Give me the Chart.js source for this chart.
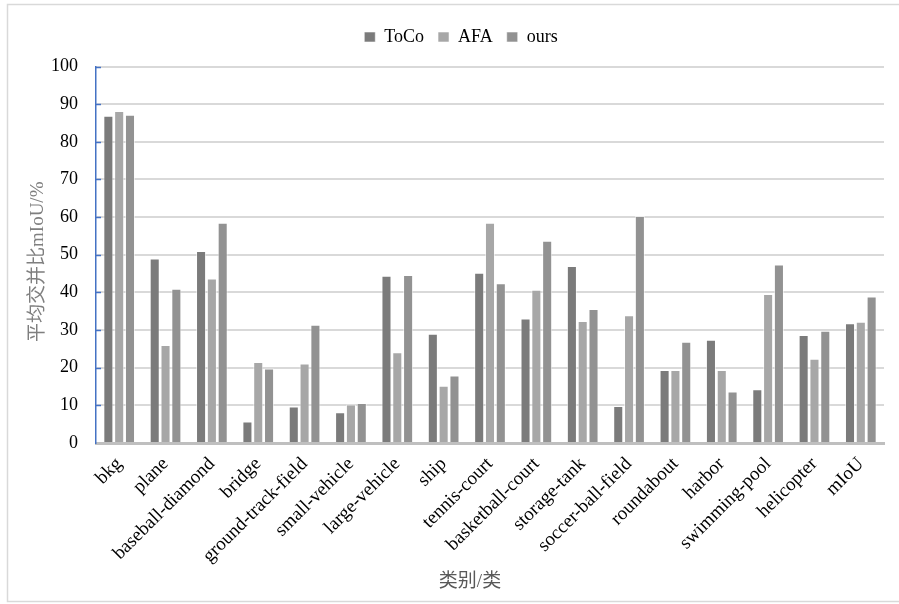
<!DOCTYPE html>
<html>
<head>
<meta charset="utf-8">
<script src="https://cdn.jsdelivr.net/npm/chart.js@4/dist/chart.umd.min.js"></script>
<style>
  html, body { margin: 0; padding: 0; background: #ffffff; }
  canvas { display: block; }
</style>
</head>
<body>
<canvas id="c" width="899" height="604"></canvas>
<script>
// Per-class IoU (%) for each method
const categories = ['bkg', 'plane', 'baseball-diamond', 'bridge', 'ground-track-field', 'small-vehicle',
  'large-vehicle', 'ship', 'tennis-court', 'basketball-court', 'storage-tank', 'soccer-ball-field',
  'roundabout', 'harbor', 'swimming-pool', 'helicopter', 'mIoU'];
const seriesNames = ['ToCo', 'AFA', 'ours'];
const tocoValues = [86.9, 49.0, 51.0, 5.7, 9.7, 8.2, 44.4, 29.0, 45.2, 33.1, 47.0, 9.8, 19.4, 27.4, 14.3, 28.7, 31.8];
const afaValues  = [88.2, 26.0, 43.7, 21.5, 21.1, 10.2, 24.1, 15.2, 58.5, 40.7, 32.4, 33.9, 19.4, 19.4, 39.6, 22.4, 32.2];
const oursValues = [87.2, 41.0, 58.5, 19.8, 31.4, 10.6, 44.6, 17.9, 42.4, 53.7, 35.6, 60.3, 26.9, 13.7, 47.4, 29.8, 38.9];
const yTicks = [0, 10, 20, 30, 40, 50, 60, 70, 80, 90, 100];
const yTitle = '平均交并比mIoU/%';
const xTitle = '类别/类';

const seriesColors = ['#7b7b7b', '#a7a7a7', '#929292'];
const serif = '"Liberation Serif", "Times New Roman", "Noto Sans CJK SC", serif';
const mixed = '"Liberation Serif", "Noto Sans CJK SC", serif';

// White page with a thin light frame around the chart
const framePlugin = {
  id: 'frame',
  beforeDraw(chart) {
    const ctx = chart.ctx;
    ctx.save();
    ctx.fillStyle = '#ffffff';
    ctx.fillRect(0, 0, chart.width, chart.height);
    ctx.strokeStyle = '#d9d9d9';
    ctx.lineWidth = 1.5;
    ctx.strokeRect(7.5, 4.5, chart.width + 10, 597);
    ctx.restore();
  }
};

// Extra gap between the legend row and the plot
const legendGapPlugin = {
  id: 'legendGap',
  beforeInit(chart) {
    const legend = chart.legend;
    if (!legend) return;
    const fit = legend.fit;
    legend.fit = function () {
      fit.call(legend);
      legend.height += 10.5;
    };
  }
};

// Axis titles and inward tick marks on the value axis
const decorPlugin = {
  id: 'decor',
  afterDraw(chart) {
    const ctx = chart.ctx;
    const y = chart.scales.y;
    const area = chart.chartArea;
    ctx.save();
    ctx.strokeStyle = '#4472c4';
    ctx.lineWidth = 1.5;
    y.ticks.forEach(t => {
      const py = Math.round(y.getPixelForValue(t.value)) + 0.5;
      if (t.value === 0) return;
      ctx.beginPath();
      ctx.moveTo(area.left - 1, py);
      ctx.lineTo(area.left + 5, py);
      ctx.stroke();
    });

    ctx.fillStyle = '#7f7f7f';
    ctx.font = '19px ' + mixed;
    ctx.textAlign = 'center';
    ctx.textBaseline = 'middle';
    ctx.save();
    ctx.translate(38, (area.top + area.bottom) / 2 + 7);
    ctx.rotate(-Math.PI / 2);
    ctx.fillText(yTitle, 0, 0);
    ctx.restore();

    ctx.fillStyle = '#595959';
    ctx.fillText(xTitle, 470, 582);
    ctx.restore();
  }
};

const datasets = [tocoValues, afaValues, oursValues].map((vals, i) => ({
  label: seriesNames[i],
  data: vals,
  backgroundColor: seriesColors[i],
  borderColor: 'rgba(255,255,255,0.55)',
  borderWidth: 1,
  categoryPercentage: 0.7,
  barPercentage: 0.93
}));

new Chart(document.getElementById('c'), {
  type: 'bar',
  data: { labels: categories, datasets },
  plugins: [framePlugin, legendGapPlugin, decorPlugin],
  options: {
    responsive: false,
    animation: false,
    layout: { padding: { left: 38, right: 15, top: 14, bottom: 0 } },
    plugins: {
      legend: {
        position: 'top',
        labels: {
          color: '#000000',
          font: { family: serif, size: 18 },
          boxWidth: 11,
          boxHeight: 10,
          padding: 14
        }
      },
      tooltip: { enabled: false }
    },
    scales: {
      x: {
        grid: { display: false, drawTicks: false },
        border: { color: '#bfbfbf', width: 3 },
        ticks: {
          color: '#000000',
          font: { family: serif, size: 19 },
          minRotation: 45,
          maxRotation: 45,
          autoSkip: false,
          padding: 10
        },
        afterFit(scale) { scale.height = 161; }
      },
      y: {
        min: 0,
        max: 100,
        afterBuildTicks(scale) { scale.ticks = yTicks.map(v => ({ value: v })); },
        grid: { color: '#d9d9d9', lineWidth: 2, drawTicks: false },
        border: { color: '#4472c4', width: 1.5 },
        ticks: {
          color: '#000000',
          font: { family: serif, size: 18 },
          padding: 18
        },
        afterFit(scale) { scale.width = 58; }
      }
    }
  }
});
</script>
</body>
</html>
